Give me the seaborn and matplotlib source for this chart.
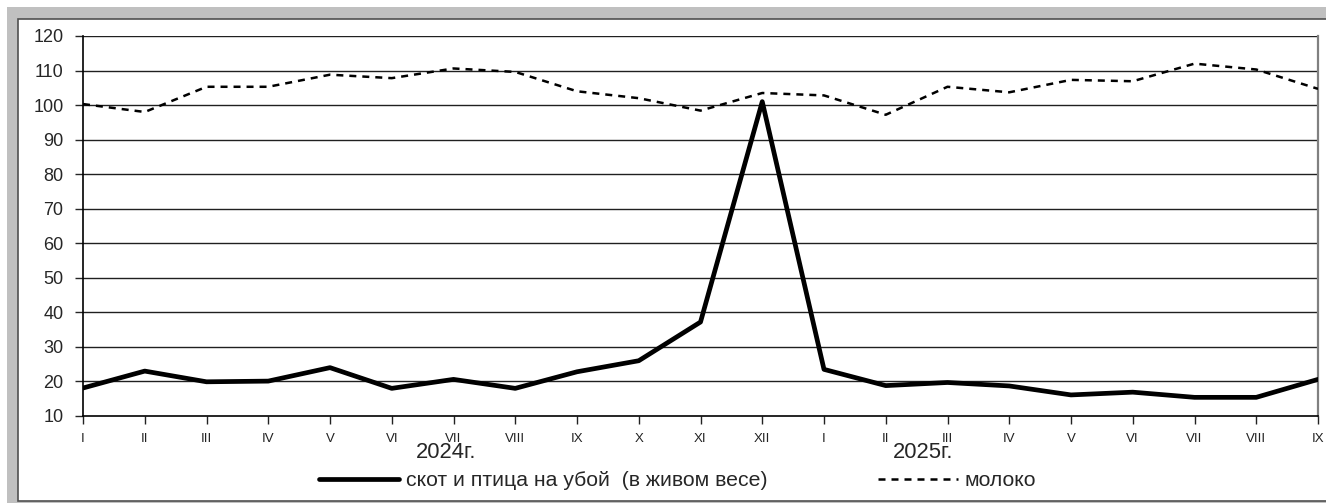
import numpy as np
import pandas as pd
import matplotlib
matplotlib.use('Agg')
import matplotlib.pyplot as plt
import seaborn as sns
from matplotlib.patches import Rectangle
from matplotlib.lines import Line2D

sns.set_style('white')
plt.rcParams['font.family'] = ['Liberation Sans', 'DejaVu Sans']

# months: I..XII 2024, I..IX 2025
months = ['I', 'II', 'III', 'IV', 'V', 'VI', 'VII', 'VIII', 'IX', 'X', 'XI', 'XII',
          'I', 'II', 'III', 'IV', 'V', 'VI', 'VII', 'VIII', 'IX']
cattle = [18.1, 23.0, 19.9, 20.1, 24.0, 18.0, 20.6, 18.0, 22.8, 26.0, 37.2, 101.0,
          23.5, 18.8, 19.7, 18.7, 16.1, 16.9, 15.4, 15.4, 20.6]
milk = [100.3, 98.0, 105.3, 105.3, 108.8, 107.8, 110.6, 109.6, 104.0, 102.0, 98.4, 103.5,
        102.8, 97.2, 105.3, 103.7, 107.3, 106.9, 112.0, 110.3, 104.7]
yticks = list(range(10, 121, 10))
years = ['2024г.', '2025г.']
cattle_label = 'скот и птица на убой  (в живом весе)'
milk_label = 'молоко'

df = pd.DataFrame({'idx': np.arange(len(months)), 'cattle': cattle, 'milk': milk})

W, H = 1326, 503
fig = plt.figure(figsize=(W / 100, H / 100), dpi=100)

# outer grey frame and white panel
fig.patches.append(Rectangle((7 / W, 0), 1, 1 - 7 / H, transform=fig.transFigure,
                             facecolor='#c0c0c0', edgecolor='none', zorder=-3))
fig.patches.append(Rectangle((17.5 / W, 1 - 500.5 / H), 1, (500.5 - 18.5) / H,
                             transform=fig.transFigure, facecolor='white',
                             edgecolor='#505050', linewidth=1.2, zorder=-2))

ax = fig.add_axes([83 / W, 1 - 416 / H, (1318 - 83) / W, (416 - 36) / H])
ax.patch.set_alpha(0)

sns.lineplot(data=df, x='idx', y='milk', ax=ax, color='black', linewidth=1.8,
             dashes=False, zorder=3)
ax.lines[-1].set_dashes((2.8, 2.4))
sns.lineplot(data=df, x='idx', y='cattle', ax=ax, color='black', linewidth=3.4, zorder=4)

ax.set_xlim(0, len(months) - 1)
ax.set_ylim(10, 120)
ax.set_yticks(yticks)
ax.set_xticks(df['idx'])
ax.set_xticklabels(months, fontsize=9.5)
ax.tick_params(axis='y', labelsize=13, length=6, width=1, pad=8, direction='out', left=True)
ax.tick_params(axis='x', length=6, width=1, pad=6, direction='out', bottom=True, colors='#222222')
ax.set_xlabel('')
ax.set_ylabel('')

for y in yticks[1:]:
    ax.axhline(y, color='#202020', linewidth=1.0, zorder=1)

for s in ['left', 'bottom']:
    ax.spines[s].set_color('black')
    ax.spines[s].set_linewidth(1.2)
ax.spines['right'].set_color('#808080')
ax.spines['right'].set_linewidth(1.6)
ax.spines['top'].set_visible(False)

tr = ax.get_xaxis_transform()
ax.text(5.39, -0.097, years[0], transform=tr, fontsize=15.8, ha='left', va='center')
ax.text(13.12, -0.097, years[1], transform=tr, fontsize=15.8, ha='left', va='center')

handles = [Line2D([], [], color='black', linewidth=3.4),
           Line2D([], [], color='black', linewidth=1.8, dashes=(2.8, 2.4))]
fig.legend(handles, [cattle_label, milk_label], loc='center', ncol=2,
           bbox_to_anchor=(0.511, 1 - 481 / H), frameon=False, fontsize=15.3,
           handlelength=3.76, handletextpad=0.3, columnspacing=5.2)

fig.savefig('out.png', dpi=100)
